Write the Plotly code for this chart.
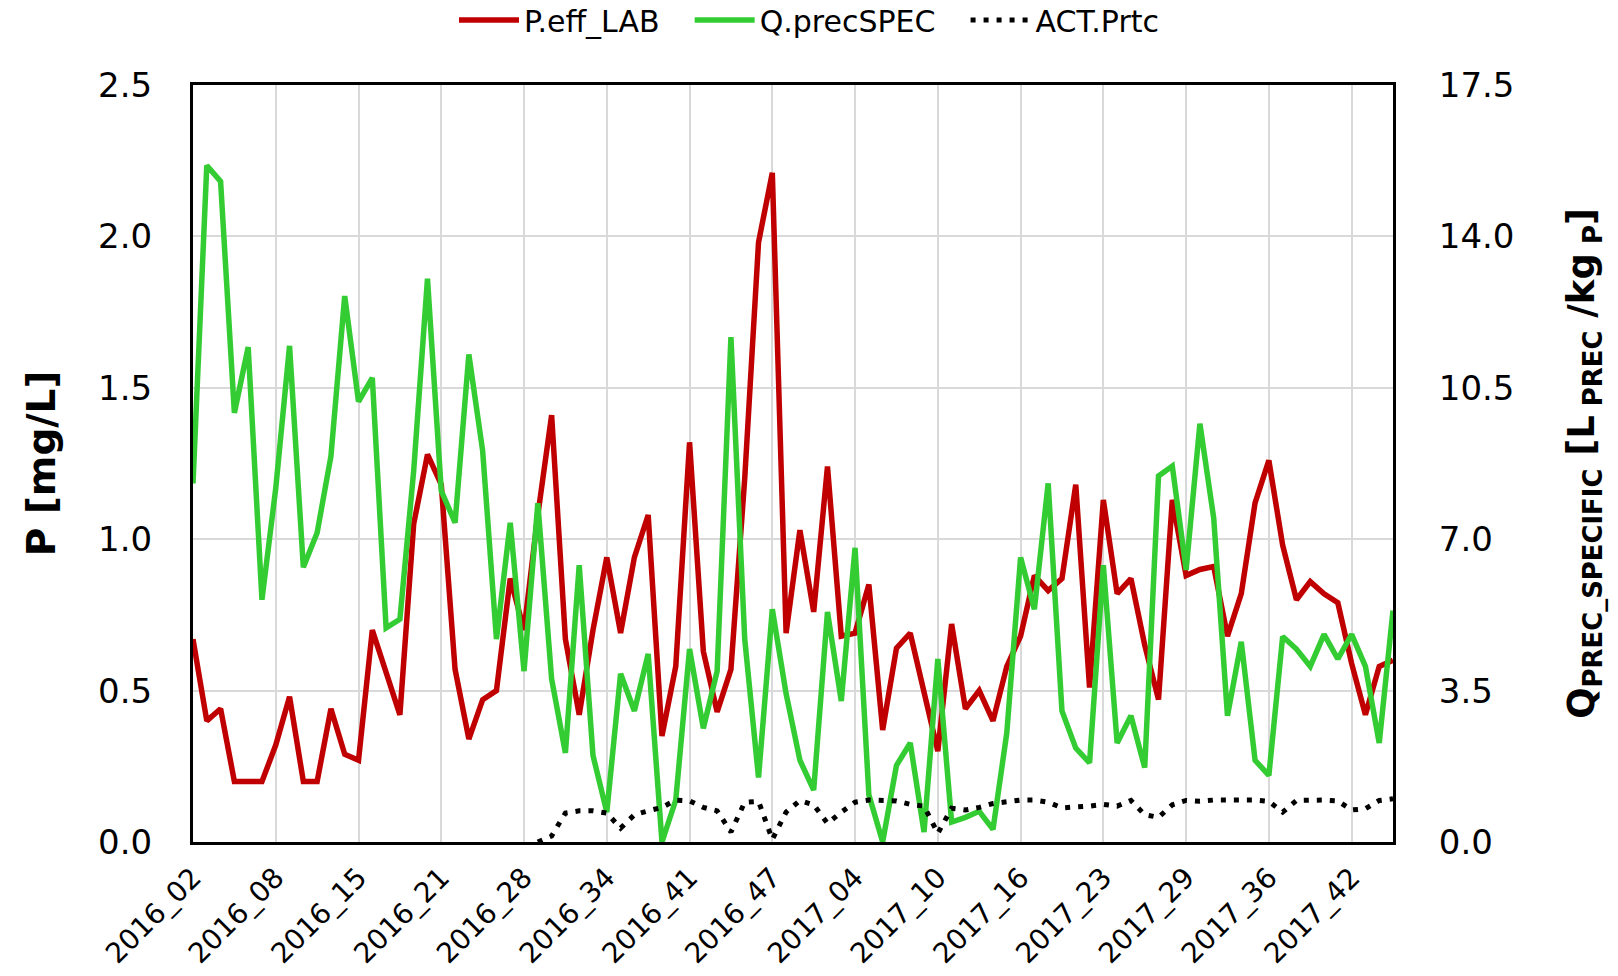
import plotly.graph_objects as go

# ---- data -------------------------------------------------------------
weeks = [
    "2016_02", "2016_03", "2016_04", "2016_05", "2016_06", "2016_07", "2016_08",
    "2016_09", "2016_10", "2016_11", "2016_12", "2016_13", "2016_15",
    "2016_16", "2016_17", "2016_18", "2016_19", "2016_20", "2016_21",
    "2016_22", "2016_23", "2016_24", "2016_25", "2016_26", "2016_28",
    "2016_29", "2016_30", "2016_31", "2016_32", "2016_33", "2016_34",
    "2016_35", "2016_36", "2016_37", "2016_38", "2016_39", "2016_41",
    "2016_42", "2016_43", "2016_44", "2016_45", "2016_46", "2016_47",
    "2016_48", "2016_49", "2016_50", "2017_01", "2017_02", "2017_04",
    "2017_05", "2017_06", "2017_07", "2017_08", "2017_09", "2017_10",
    "2017_11", "2017_12", "2017_13", "2017_14", "2017_15", "2017_16",
    "2017_17", "2017_18", "2017_19", "2017_20", "2017_21", "2017_23",
    "2017_24", "2017_25", "2017_26", "2017_27", "2017_28", "2017_29",
    "2017_30", "2017_31", "2017_32", "2017_33", "2017_34", "2017_36",
    "2017_37", "2017_38", "2017_39", "2017_40", "2017_41", "2017_42",
    "2017_43", "2017_44", "2017_45",
]

tick_labels = ["2016_02", "2016_08", "2016_15", "2016_21", "2016_28", "2016_34",
               "2016_41", "2016_47", "2017_04", "2017_10", "2017_16", "2017_23",
               "2017_29", "2017_36", "2017_42"]

p_eff_lab = [
    0.67, 0.40, 0.44, 0.20, 0.20, 0.20, 0.32, 0.48, 0.20, 0.20,
    0.44, 0.29, 0.27, 0.70, 0.56, 0.42, 1.05, 1.28, 1.18, 0.57,
    0.34, 0.47, 0.50, 0.87, 0.70, 1.08, 1.41, 0.67, 0.42, 0.70,
    0.94, 0.69, 0.94, 1.08, 0.35, 0.58, 1.32, 0.63, 0.43, 0.57,
    1.20, 1.98, 2.21, 0.69, 1.03, 0.76, 1.24, 0.68, 0.69, 0.85,
    0.37, 0.64, 0.69, 0.49, 0.30, 0.72, 0.44, 0.50, 0.40, 0.58,
    0.68, 0.88, 0.83, 0.87, 1.18, 0.51, 1.13, 0.82, 0.87, 0.65,
    0.47, 1.13, 0.88, 0.90, 0.91, 0.68, 0.82, 1.12, 1.26, 0.98,
    0.80, 0.86, 0.82, 0.79, 0.59, 0.42, 0.58, 0.60,
]

q_prec_spec = [
    8.29, 15.64, 15.27, 9.92, 11.44, 5.60, 8.18, 11.47, 6.35, 7.15,
    8.92, 12.62, 10.18, 10.73, 4.95, 5.15, 8.58, 13.02, 8.12, 7.38,
    11.27, 9.04, 4.69, 7.38, 3.95, 7.83, 3.77, 2.06, 6.40, 2.00,
    0.69, 3.89, 3.03, 4.35, 0.00, 0.97, 4.46, 2.63, 3.95, 11.67,
    4.69, 1.49, 5.38, 3.43, 1.89, 1.20, 5.32, 3.26, 6.80, 1.09,
    0.00, 1.77, 2.29, 0.23, 4.23, 0.46, 0.57, 0.71, 0.29, 2.52,
    6.58, 5.38, 8.29, 3.03, 2.17, 1.83, 6.40, 2.29, 2.92, 1.72,
    8.46, 8.69, 6.29, 9.67, 7.49, 2.92, 4.63, 1.89, 1.54, 4.75,
    4.46, 4.06, 4.80, 4.23, 4.80, 4.06, 2.29, 5.35,
]

act_prtc = [
    None, None, None, None, None, None, None, None, None, None,
    None, None, None, None, None, None, None, None, None, None,
    None, None, None, None, None, 0.00, 0.14, 0.67, 0.72, 0.72,
    0.67, 0.32, 0.63, 0.72, 0.80, 0.97, 0.95, 0.80, 0.72, 0.23,
    0.92, 0.94, 0.06, 0.69, 0.96, 0.86, 0.43, 0.69, 0.92, 0.97,
    0.97, 0.95, 0.87, 0.83, 0.20, 0.78, 0.74, 0.80, 0.89, 0.92,
    0.97, 0.97, 0.92, 0.79, 0.80, 0.83, 0.87, 0.83, 0.96, 0.63,
    0.57, 0.86, 0.96, 0.94, 0.97, 0.97, 0.97, 0.97, 0.94, 0.69,
    0.96, 0.97, 0.97, 0.95, 0.74, 0.77, 0.96, 1.00,
]

series_names = ["P.eff_LAB", "Q.precSPEC", "ACT.Prtc"]

# ---- styles -----------------------------------------------------------
RED = "#C00000"
GREEN = "#33CC33"
GRID = "#D9D9D9"
FONT = "DejaVu Sans"
PAD = "\u00a0\u00a0\u2009"  # spacing after legend labels

fig = go.Figure()
fig.add_trace(go.Scatter(x=weeks, y=p_eff_lab, name=series_names[0] + PAD, mode="lines",
                         line=dict(color=RED, width=5.5), yaxis="y"))
fig.add_trace(go.Scatter(x=weeks, y=q_prec_spec, name=series_names[1] + PAD, mode="lines",
                         line=dict(color=GREEN, width=5.5), yaxis="y2"))
fig.add_trace(go.Scatter(x=weeks, y=act_prtc, name=series_names[2], mode="lines",
                         line=dict(color="black", width=5, dash="5px,8px"),
                         yaxis="y2"))

fig.update_layout(
    width=1618, height=976,
    margin=dict(l=193, r=225, t=85, b=134, autoexpand=False),
    paper_bgcolor="white", plot_bgcolor="white",
    font=dict(family=FONT, color="black"),
    showlegend=True,
    legend=dict(orientation="h", xref="container", yref="container",
                x=0.5, xanchor="center", y=1 - 20 / 976, yanchor="middle",
                font=dict(size=30, family=FONT), bgcolor="rgba(0,0,0,0)",
                itemwidth=60, traceorder="normal"),
    xaxis=dict(
        type="category", categoryorder="array", categoryarray=weeks,
        range=[0, len(weeks) - 1], automargin=False,
        tickmode="array", tickvals=tick_labels, ticktext=tick_labels,
        tickangle=-45, tickfont=dict(size=28, family=FONT),
        showgrid=True, gridcolor=GRID, gridwidth=1.5,
        showline=True, linecolor="black", linewidth=3, mirror=True,
        ticks="", zeroline=False, ticklabelstandoff=5,
    ),
    yaxis=dict(
        range=[0, 2.5], dtick=0.5, tick0=0, tickformat=".1f", automargin=False,
        tickfont=dict(size=34, family=FONT),
        showgrid=True, gridcolor=GRID, gridwidth=1.5,
        showline=True, linecolor="black", linewidth=3, mirror=True,
        zeroline=False, ticks="", ticklabelstandoff=31,
        title=dict(text="P [mg/L]", font=dict(size=39, family=FONT, weight="bold"),
                   standoff=31),
    ),
    yaxis2=dict(
        overlaying="y", side="right", automargin=False,
        range=[0, 17.5], dtick=3.5, tick0=0, tickformat=".1f",
        tickfont=dict(size=34, family=FONT),
        showgrid=False, zeroline=False,
        showline=True, linecolor="black", linewidth=3,
        ticks="", ticklabelstandoff=36,
        title=dict(text="Q<sub>PREC_SPECIFIC</sub> [L<sub> PREC</sub> /kg<sub> P</sub>]",
                   font=dict(size=37, family=FONT, weight="bold"), standoff=55),
    ),
)

fig.write_html("out.html", config={"displayModeBar": False})

# remove the browser's default body margin so the figure sits at the page origin
with open("out.html", "r", encoding="utf-8") as fh:
    html = fh.read()
html = html.replace("<body>", '<body style="margin:0;padding:0;">', 1)
with open("out.html", "w", encoding="utf-8") as fh:
    fh.write(html)
